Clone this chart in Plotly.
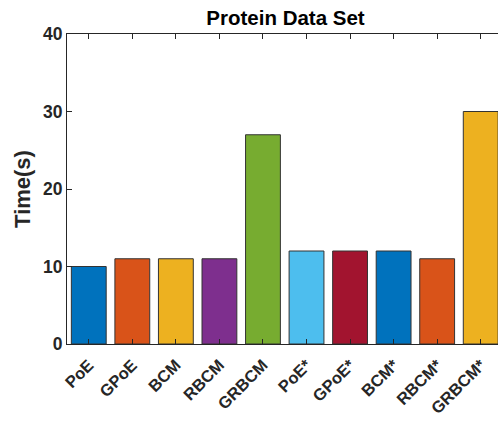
import plotly.graph_objects as go

# Run times per aggregation method on the protein data set
methods = ["PoE", "GPoE", "BCM", "RBCM", "GRBCM",
           "PoE*", "GPoE*", "BCM*", "RBCM*", "GRBCM*"]
times = [10, 11, 11, 11, 27, 12, 12, 12, 11, 30]
colors = ["#0072BD", "#D95319", "#EDB120", "#7E2F8E", "#77AC30",
          "#4DBEEE", "#A2142F", "#0072BD", "#D95319", "#EDB120"]

positions = list(range(1, len(methods) + 1))

font_family = "Liberation Sans, Arial, sans-serif"
axis_color = "#262626"

fig = go.Figure(
    go.Bar(
        x=positions,
        y=times,
        width=0.8,
        marker=dict(color=colors, line=dict(color="#333333", width=1)),
    )
)

fig.update_layout(
    width=498,
    height=421,
    margin=dict(l=67, r=0, t=34, b=77),
    paper_bgcolor="white",
    plot_bgcolor="white",
    showlegend=False,
    font=dict(family=font_family, color=axis_color),
    title=dict(
        text="<b>Protein Data Set</b>",
        x=285.5 / 498,
        xref="container",
        xanchor="center",
        y=1 - 18 / 421,
        yref="container",
        yanchor="middle",
        font=dict(size=20.5, color="#000000", family=font_family),
    ),
)

fig.update_xaxes(
    range=[0.5, 10.397],
    tickmode="array",
    tickvals=positions,
    ticktext=[f"<b>{m}</b>" for m in methods],
    tickangle=-45,
    tickfont=dict(size=16.5, color=axis_color),
    ticklabelstandoff=4,
    ticks="inside",
    ticklen=5,
    tickcolor=axis_color,
    showline=True,
    linecolor=axis_color,
    linewidth=1,
    mirror="ticks",
    showgrid=False,
    zeroline=False,
)

fig.update_yaxes(
    range=[0, 40],
    tickvals=[0, 10, 20, 30, 40],
    ticktext=["<b>0</b>", "<b>10</b>", "<b>20</b>", "<b>30</b>", "<b>40</b>"],
    tickfont=dict(size=17.5, color=axis_color),
    ticks="inside",
    ticklen=5,
    tickcolor=axis_color,
    showline=True,
    linecolor=axis_color,
    linewidth=1,
    mirror=False,
    showgrid=False,
    zeroline=False,
    title=dict(text="<b>Time(s)</b>", font=dict(size=22, color=axis_color), standoff=6),
)

fig.write_html("out.html")
